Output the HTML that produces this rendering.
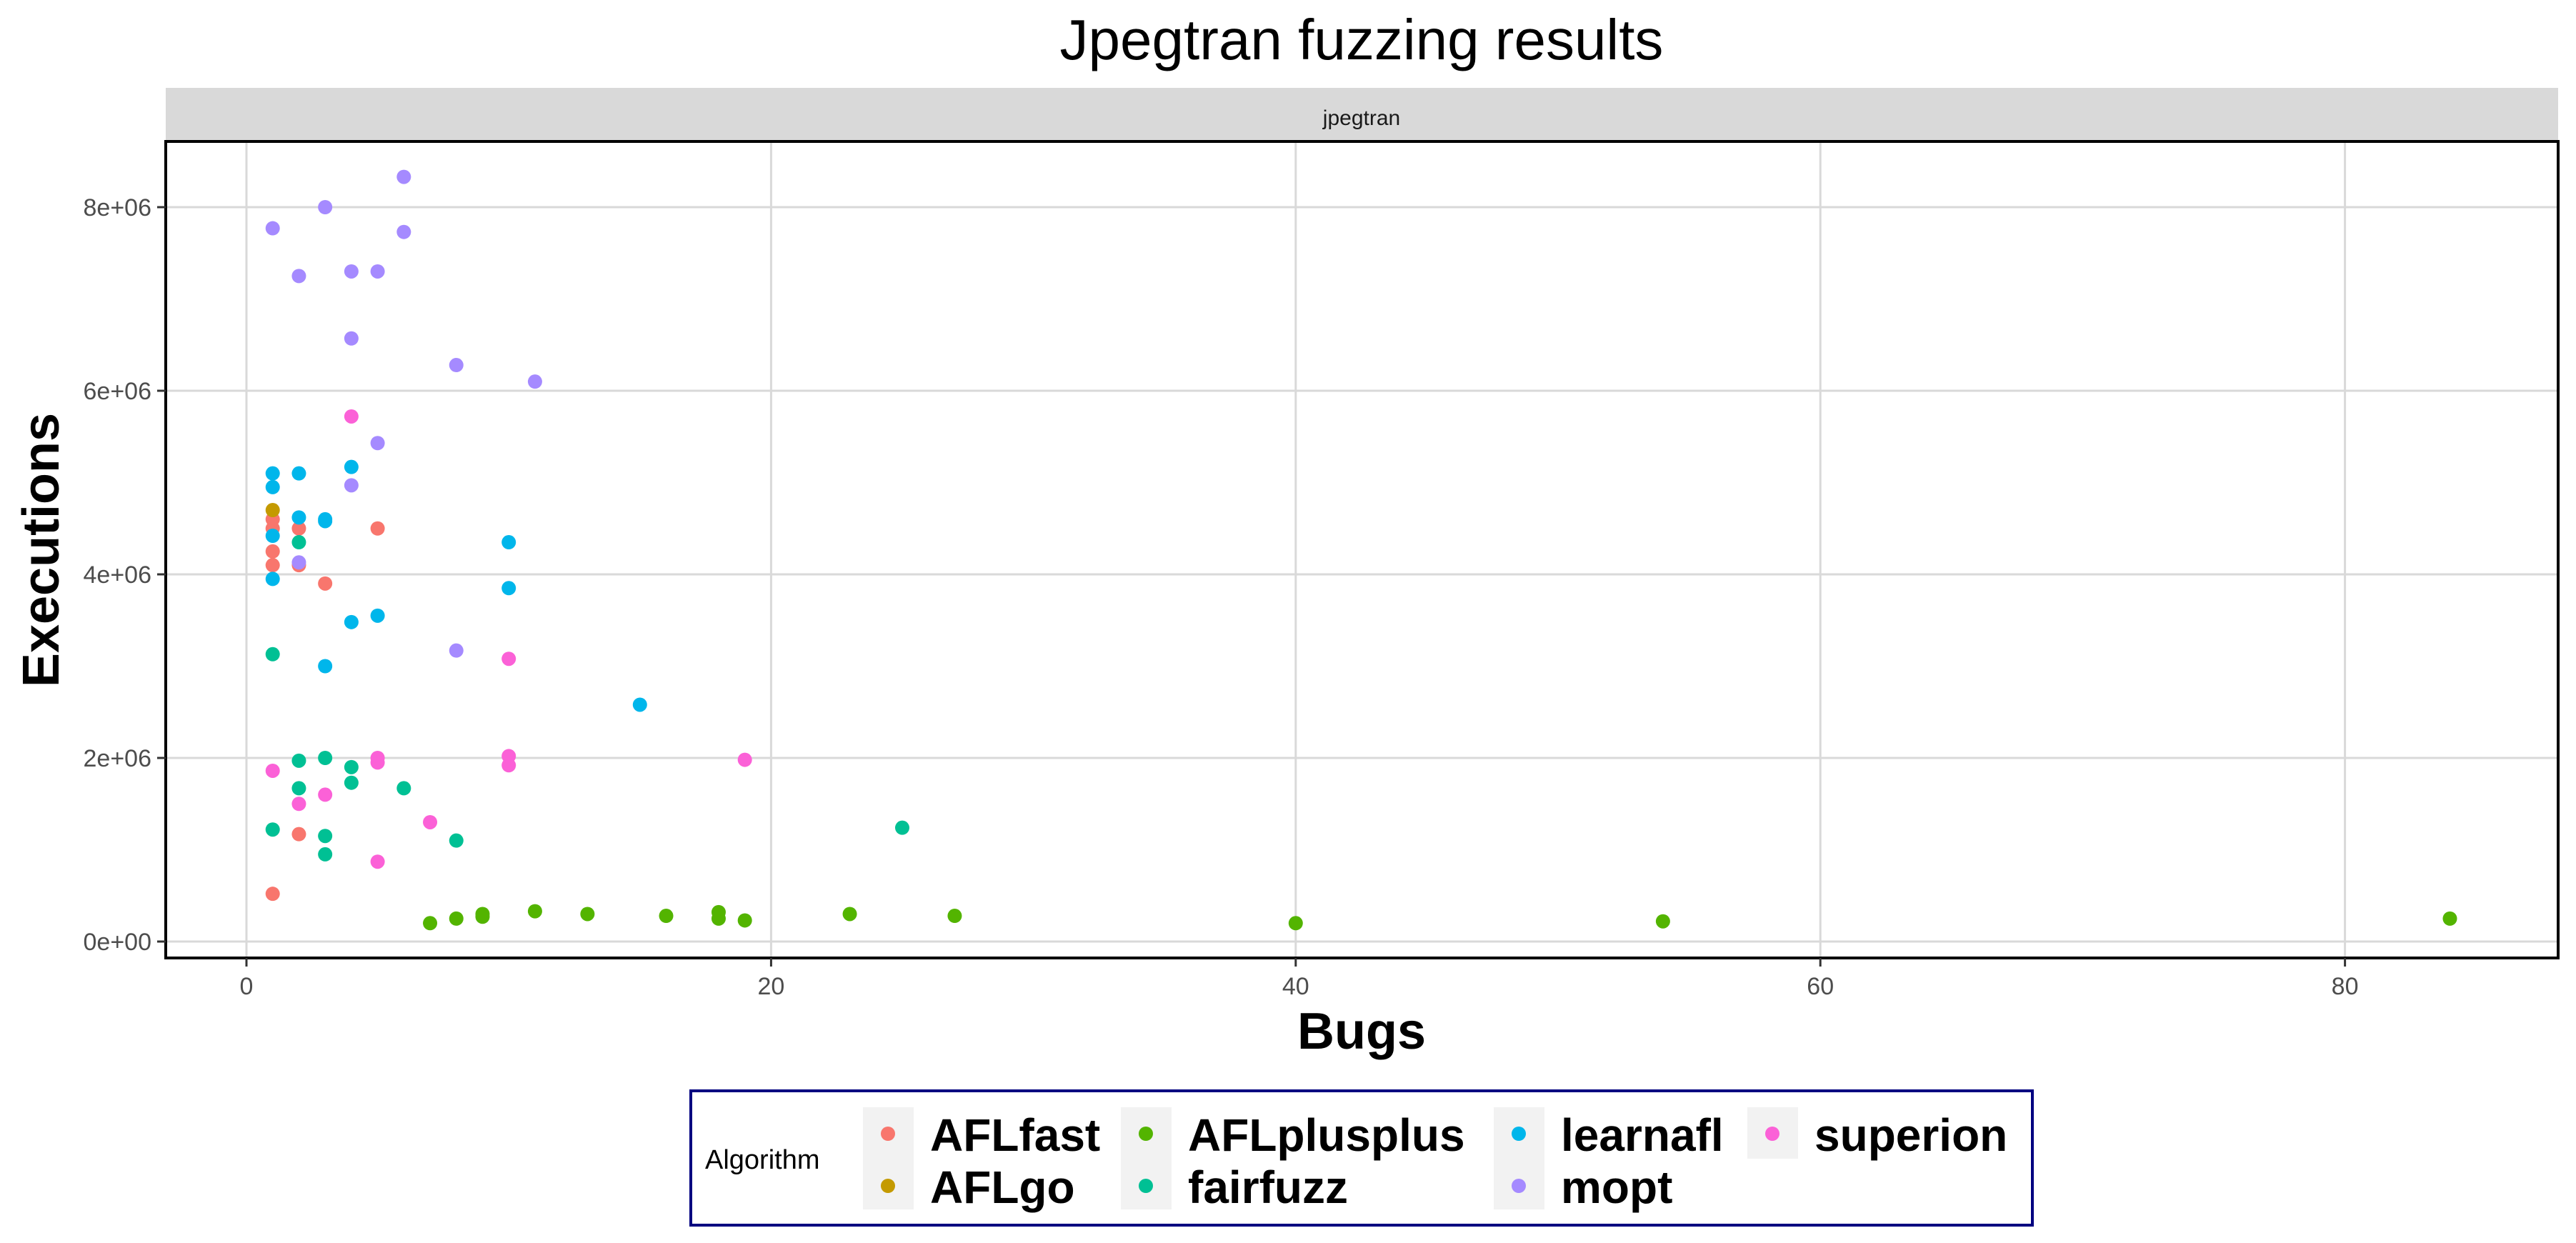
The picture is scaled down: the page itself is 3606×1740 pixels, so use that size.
<!DOCTYPE html>
<html><head><meta charset="utf-8"><style>
html,body{margin:0;padding:0;background:#fff;}
svg{display:block;font-family:"Liberation Sans",Arial,sans-serif;}
</style></head><body>
<svg id="chart" width="3606" height="1740" xmlns="http://www.w3.org/2000/svg">
<text x="1906" y="83" font-size="80" text-anchor="middle">Jpegtran fuzzing results</text>
<rect x="232" y="123" width="3349" height="75" fill="#d9d9d9"/>
<text x="1906" y="175" font-size="30" text-anchor="middle" fill="#1a1a1a">jpegtran</text>
<g id="grid"></g>
<g id="points"></g>
<rect x="232" y="198" width="3349" height="1143" fill="none" stroke="#000" stroke-width="4"/>
<g id="axes"></g>
<text x="1906" y="1468" font-size="72" font-weight="bold" text-anchor="middle">Bugs</text>
<text transform="translate(82,770) rotate(-90)" font-size="72" font-weight="bold" text-anchor="middle">Executions</text>
<g>
<rect x="967" y="1527" width="1878" height="188" fill="#fff" stroke="#000080" stroke-width="4"/>
<text x="987" y="1636" font-size="38">Algorithm</text>
<g id="legend-items"></g>
</g>
</svg>
<script>
const categories=["AFLfast","AFLgo","AFLplusplus","fairfuzz","learnafl","mopt","superion"];
const colors=["#F8766D","#C49A00","#53B400","#00C094","#00B6EB","#A58AFF","#FB61D7"];
const bugsAFLfast=[1,1,1,1,2,2,3,5,2,1];
const execAFLfast=[4.6e6,4.5e6,4.25e6,4.1e6,4.5e6,4.1e6,3.9e6,4.5e6,1.17e6,0.52e6];
const bugsAFLgo=[1];
const execAFLgo=[4.7e6];
const bugsAFLplusplus=[7,8,9,9,11,13,16,18,18,19,23,27,40,54,84];
const execAFLplusplus=[0.2e6,0.25e6,0.27e6,0.3e6,0.33e6,0.3e6,0.28e6,0.25e6,0.32e6,0.23e6,0.3e6,0.28e6,0.2e6,0.22e6,0.25e6];
const bugsFairfuzz=[1,1,2,2,2,3,3,3,4,4,6,8,25];
const execFairfuzz=[3.13e6,1.22e6,4.35e6,1.97e6,1.67e6,2.0e6,1.15e6,0.95e6,1.9e6,1.73e6,1.67e6,1.1e6,1.24e6];
const bugsLearnafl=[1,1,1,1,2,2,3,3,3,4,4,5,10,10,15];
const execLearnafl=[5.1e6,4.95e6,4.42e6,3.95e6,5.1e6,4.62e6,4.6e6,4.58e6,3.0e6,5.17e6,3.48e6,3.55e6,4.35e6,3.85e6,2.58e6];
const bugsMopt=[1,2,3,4,5,6,6,4,8,11,5,4,2,8];
const execMopt=[7.77e6,7.25e6,8.0e6,7.3e6,7.3e6,8.33e6,7.73e6,6.57e6,6.28e6,6.1e6,5.43e6,4.97e6,4.13e6,3.17e6];
const bugsSuperion=[4,10,5,5,10,10,19,1,3,2,7,5];
const execSuperion=[5.72e6,3.08e6,2.0e6,1.95e6,2.02e6,1.92e6,1.98e6,1.86e6,1.6e6,1.5e6,1.3e6,0.87e6];
const xTicks=[0,20,40,60,80];
const xTickLabels=["0","20","40","60","80"];
const yTicks=[0,2e6,4e6,6e6,8e6];
const yTickLabels=["0e+00","2e+06","4e+06","6e+06","8e+06"];

const NS="http://www.w3.org/2000/svg";
const X0=232,X1=3581,Y0=198,Y1=1341;
function xs(v){return 345+v*36.72;}
function ys(v){return 1318-v*(1028/8e6);}
function mk(tag,attrs,parent){const e=document.createElementNS(NS,tag);for(const k in attrs)e.setAttribute(k,attrs[k]);parent.appendChild(e);return e;}
const grid=document.getElementById('grid'),axes=document.getElementById('axes'),pts=document.getElementById('points');
xTicks.forEach((t,i)=>{
  const g=mk('line',{x1:xs(t),x2:xs(t),y1:Y0,y2:Y1,stroke:'#d9d9d9','stroke-width':3},grid);
  
  
  const tk=mk('line',{x1:xs(t),x2:xs(t),y1:Y1,y2:Y1+12,stroke:'#333','stroke-width':3},axes);
  
  
  const l=mk('text',{x:xs(t),y:1392,'font-size':34,'text-anchor':'middle',fill:'#4d4d4d'},axes);
  l.textContent=xTickLabels[i];
  
  
});
yTicks.forEach((t,i)=>{
  const g=mk('line',{x1:X0,x2:X1,y1:ys(t),y2:ys(t),stroke:'#d9d9d9','stroke-width':3},grid);
  
  
  const tk=mk('line',{x1:X0-12,x2:X0,y1:ys(t),y2:ys(t),stroke:'#333','stroke-width':3},axes);
  
  
  const l=mk('text',{x:X0-20,y:ys(t)+12,'font-size':34,'text-anchor':'end',fill:'#4d4d4d'},axes);
  l.textContent=yTickLabels[i];
  
  
});
const series=[[bugsAFLfast,execAFLfast],[bugsAFLgo,execAFLgo],[bugsAFLplusplus,execAFLplusplus],[bugsFairfuzz,execFairfuzz],[bugsLearnafl,execLearnafl],[bugsMopt,execMopt],[bugsSuperion,execSuperion]];
series.forEach((s,si)=>{
  s[0].forEach((b,i)=>{
    const c=mk('circle',{cx:xs(b),cy:ys(s[1][i]),r:10,fill:colors[si]},pts);
    
    
  });
});
// legend
const li=document.getElementById('legend-items');
const colKeyX=[1208,1569,2091,2446],colLabX=[1302,1663,2185,2540],rowY=[1587,1660];
const pos=[[0,0],[0,1],[1,0],[1,1],[2,0],[2,1],[3,0]];
[[0,2],[1,2],[2,2],[3,1]].forEach(([c,n])=>{
  const r=mk('rect',{x:colKeyX[c],y:1550,width:71,height:n==2?143:72,fill:'#f2f2f2'},li);
  
  
});
categories.forEach((name,i)=>{
  const [c,r]=pos[i];
  const d=mk('circle',{cx:colKeyX[c]+35,cy:rowY[r],r:10,fill:colors[i]},li);
  
  
  const t=mk('text',{x:colLabX[c],y:rowY[r]+24,'font-size':64,'font-weight':'bold'},li);
  t.textContent=name;
  
  
});
</script>
</body></html>
